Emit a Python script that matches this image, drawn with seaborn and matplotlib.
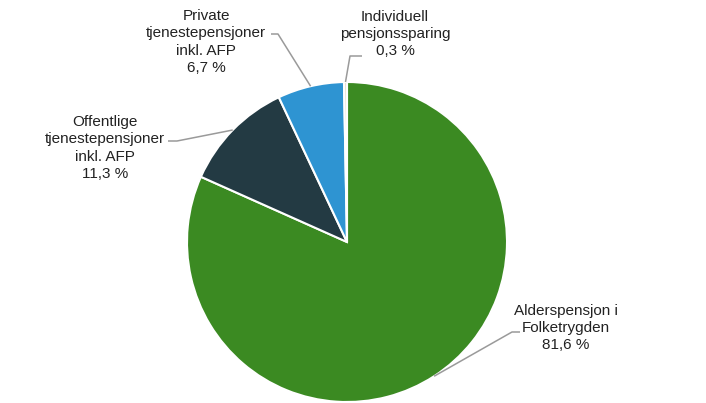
import numpy as np
import matplotlib
matplotlib.use("Agg")
import matplotlib.pyplot as plt
import seaborn as sns

sns.set_theme(style="white")
plt.rcParams['font.family'] = ['Liberation Sans', 'DejaVu Sans']

categories = ["Alderspensjon i\nFolketrygden",
              "Offentlige\ntjenestepensjoner\ninkl. AFP",
              "Private\ntjenestepensjoner\ninkl. AFP",
              "Individuell\npensjonssparing"]
values = [81.6, 11.3, 6.7, 0.3]
colors = ["#3b8a22", "#233a43", "#2e94d2", "#eadfcc"]

W, H = 706, 403
cx, cy, R = 347, 242, 160  # pixel layout of the pie

fig = plt.figure(figsize=(W / 100, H / 100), dpi=100)
ax = fig.add_axes([0, 0, 1, 1])

wedges, _ = ax.pie(values, colors=colors, startangle=90, counterclock=False,
                   radius=1.0, center=(0, 0),
                   wedgeprops=dict(edgecolor="white", linewidth=1.5))

ax.set_xlim(-cx / R, (W - cx) / R)
ax.set_ylim(-(H - cy) / R, cy / R)
ax.set_aspect('auto')
ax.axis('off')

def px(x, y):
    return ((x - cx) / R, (cy - y) / R)

# label layout (pixel coords): text center, elbow, text-side end
layout = [
    dict(text=(566, 328), elbow=(512, 332), end=(520, 332)),
    dict(text=(105, 148), elbow=(177, 141), end=(168, 141)),
    dict(text=(206, 42), elbow=(278, 34), end=(271, 34)),
    dict(text=(395, 34), elbow=(350, 56), end=(362, 56)),
]

for w, cat, val, lay in zip(wedges, categories, values, layout):
    mid = np.deg2rad((w.theta1 + w.theta2) / 2)
    edge = (np.cos(mid), np.sin(mid))
    e = px(*lay["elbow"])
    t = px(*lay["end"])
    ax.plot([edge[0], e[0], t[0]], [edge[1], e[1], t[1]],
            color="#9a9a9a", linewidth=1.1, solid_capstyle="butt")
    val_txt = f"{val:.1f}".replace(".", ",")
    label = f"{cat}\n{val_txt} %"
    tx, ty = px(*lay["text"])
    ax.text(tx, ty, label, ha="center", va="center", fontsize=11,
            color="#222222", linespacing=1.28)

fig.savefig("out.png", dpi=100, facecolor="white")
